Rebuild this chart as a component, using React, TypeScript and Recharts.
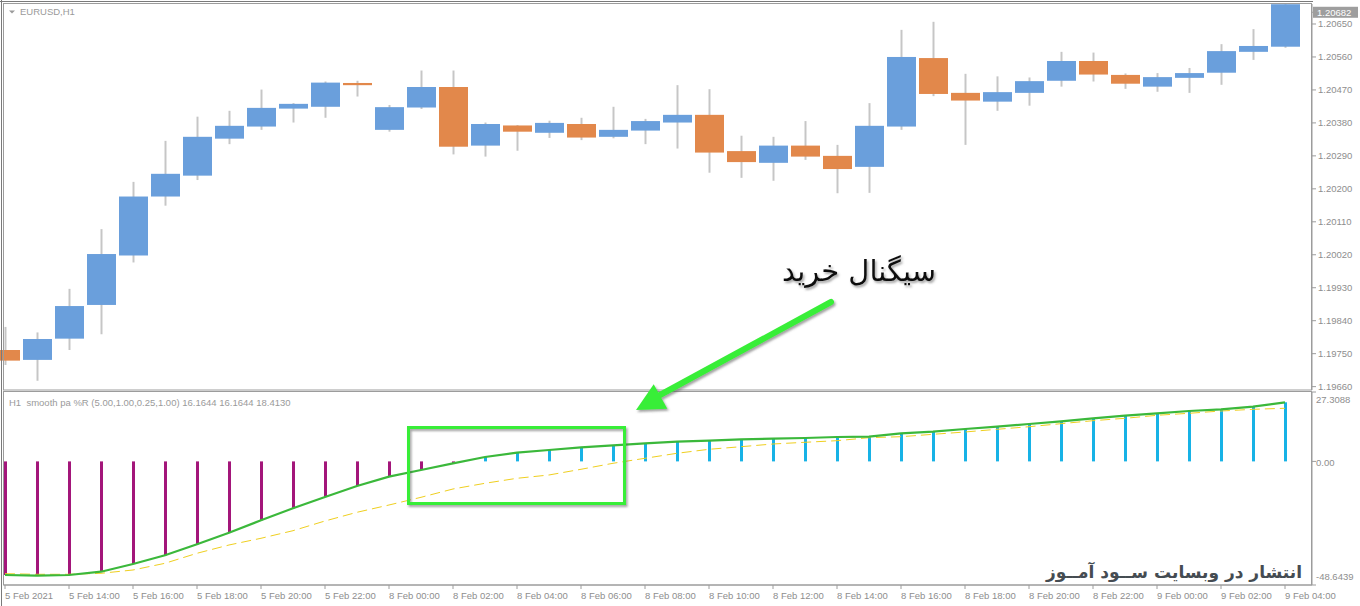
import React from 'react'
import { ComposedChart, Bar, Line, XAxis, YAxis, Cell } from 'recharts'

// H1 bars, 5 Feb 12:00 -> 9 Feb 04:00
const barTimes = [
  '5 Feb 12:00', '5 Feb 13:00', '5 Feb 14:00', '5 Feb 15:00', '5 Feb 16:00', '5 Feb 17:00',
  '5 Feb 18:00', '5 Feb 19:00', '5 Feb 20:00', '5 Feb 21:00', '5 Feb 22:00', '5 Feb 23:00',
  '8 Feb 00:00', '8 Feb 01:00', '8 Feb 02:00', '8 Feb 03:00', '8 Feb 04:00', '8 Feb 05:00',
  '8 Feb 06:00', '8 Feb 07:00', '8 Feb 08:00', '8 Feb 09:00', '8 Feb 10:00', '8 Feb 11:00',
  '8 Feb 12:00', '8 Feb 13:00', '8 Feb 14:00', '8 Feb 15:00', '8 Feb 16:00', '8 Feb 17:00',
  '8 Feb 18:00', '8 Feb 19:00', '8 Feb 20:00', '8 Feb 21:00', '8 Feb 22:00', '8 Feb 23:00',
  '9 Feb 00:00', '9 Feb 01:00', '9 Feb 02:00', '9 Feb 03:00', '9 Feb 04:00',
]

const opens = [
  1.19760, 1.19733, 1.19791, 1.19883, 1.20018, 1.20179, 1.20236, 1.20337, 1.20370, 1.20419,
  1.20424, 1.20489, 1.20361, 1.20422, 1.20478, 1.20318, 1.20373, 1.20353, 1.20377, 1.20342,
  1.20359, 1.20381, 1.20402, 1.20303, 1.20271, 1.20318, 1.20290, 1.20260, 1.20370, 1.20557,
  1.20462, 1.20438, 1.20462, 1.20495, 1.20549, 1.20511, 1.20479, 1.20503, 1.20517, 1.20574,
  1.20588,
]
const highs = [
  1.19823, 1.19808, 1.19927, 1.20090, 1.20219, 1.20331, 1.20397, 1.20413, 1.20471, 1.20434,
  1.20493, 1.20495, 1.20429, 1.20523, 1.20523, 1.20381, 1.20374, 1.20386, 1.20394, 1.20424,
  1.20391, 1.20483, 1.20472, 1.20345, 1.20342, 1.20385, 1.20320, 1.20434, 1.20634, 1.20656,
  1.20514, 1.20507, 1.20504, 1.20574, 1.20572, 1.20515, 1.20516, 1.20530, 1.20595, 1.20636,
  1.20704,
]
const lows = [
  1.19719, 1.19676, 1.19760, 1.19803, 1.19999, 1.20154, 1.20224, 1.20322, 1.20361, 1.20381,
  1.20394, 1.20452, 1.20356, 1.20418, 1.20294, 1.20288, 1.20304, 1.20339, 1.20333, 1.20338,
  1.20322, 1.20310, 1.20244, 1.20230, 1.20222, 1.20279, 1.20188, 1.20189, 1.20361, 1.20453,
  1.20320, 1.20413, 1.20427, 1.20479, 1.20493, 1.20473, 1.20465, 1.20462, 1.20484, 1.20552,
  1.20585,
]
const closes = [
  1.19731, 1.19790, 1.19880, 1.20022, 1.20179, 1.20241, 1.20342, 1.20372, 1.20421, 1.20432,
  1.20490, 1.20483, 1.20423, 1.20478, 1.20315, 1.20377, 1.20356, 1.20380, 1.20340, 1.20361,
  1.20385, 1.20402, 1.20299, 1.20273, 1.20318, 1.20288, 1.20254, 1.20372, 1.20560, 1.20459,
  1.20441, 1.20464, 1.20494, 1.20549, 1.20512, 1.20487, 1.20505, 1.20516, 1.20576, 1.20590,
  1.20704,
]

// smooth pa %R: main line (also the histogram) and signal line
const mainValues = [
  -44.70, -44.98, -44.70, -43.41, -40.38, -36.95, -32.62, -28.06, -23.18, -18.46,
  -14.01, -9.68, -6.02, -3.38, -0.75, 1.73, 3.42, 4.49, 5.55, 6.34,
  7.12, 7.75, 8.15, 8.70, 8.93, 9.21, 9.60, 9.72, 11.06, 11.69,
  12.75, 13.65, 14.72, 15.78, 16.96, 17.98, 18.93, 19.83, 20.50, 21.53,
  23.26,
]
const signalValues = [
  -44.19, -44.43, -44.43, -44.04, -42.74, -40.10, -36.16, -32.90, -30.26, -27.27,
  -23.45, -20.03, -17.16, -14.13, -10.86, -8.62, -6.65, -5.35, -3.11, -0.75,
  1.22, 3.19, 4.76, 5.78, 6.85, 7.52, 8.15, 9.33, 9.72, 10.66,
  11.57, 12.63, 13.65, 14.84, 16.02, 16.96, 18.14, 18.93, 19.83, 20.50,
  20.90,
]

const priceTicks = [1.1966, 1.1975, 1.1984, 1.1993, 1.2002, 1.2011, 1.202, 1.2029, 1.2038, 1.2047, 1.2056, 1.2065]
const lastPrice = 1.20682
const indTicks = [-48.6439, 0, 27.3088]
const timeTicks = [
  '5 Feb 12:00', '5 Feb 14:00', '5 Feb 16:00', '5 Feb 18:00', '5 Feb 20:00', '5 Feb 22:00',
  '8 Feb 00:00', '8 Feb 02:00', '8 Feb 04:00', '8 Feb 06:00', '8 Feb 08:00', '8 Feb 10:00',
  '8 Feb 12:00', '8 Feb 14:00', '8 Feb 16:00', '8 Feb 18:00', '8 Feb 20:00', '8 Feb 22:00',
  '9 Feb 00:00', '9 Feb 02:00', '9 Feb 04:00',
]

const BLUE = '#6a9fdc'
const ORANGE = '#e2884b'
const WICK = '#c6c6c6'
const MAGENTA = '#a3167a'
const CYAN = '#17b2e6'
const GREEN = '#3bb83b'
const YELLOW = '#efcf1f'
const AXIS = '#9c9c9c'
const LABEL = '#8e8e8e'
const FONT = '"Liberation Sans", Arial, sans-serif'
const MARK = '#39ee39'

const candles = barTimes.map((t, i) => ({
  t, open: opens[i], high: highs[i], low: lows[i], close: closes[i], range: [lows[i], highs[i]],
}))
const indRows = barTimes.map((t, i) => ({ t, main: mainValues[i], signal: signalValues[i] }))

const Candle = (props: any) => {
  const { x, y, width, height, payload } = props
  if (x == null || y == null) return null
  const top = Math.min(y, y + height)
  const h = Math.abs(height)
  const span = payload.high - payload.low
  const toY = (v: number) => (span === 0 ? top : top + ((payload.high - v) / span) * h)
  const up = payload.close >= payload.open
  const bTop = toY(Math.max(payload.open, payload.close))
  const bBot = toY(Math.min(payload.open, payload.close))
  const cx = x + width / 2
  return (
    <g>
      <line x1={cx} x2={cx} y1={top} y2={top + h} stroke={WICK} strokeWidth={2} />
      <rect x={x} y={bTop} width={width} height={Math.max(bBot - bTop, 2)} fill={up ? BLUE : ORANGE} />
    </g>
  )
}

const PriceTick = (p: any) => {
  const v = p.payload.value
  if (v === lastPrice) {
    return (
      <g>
        <rect x={p.x - 5} y={p.y - 5.5} width={45} height={11} fill="#9e9e9e" />
        <text x={p.x - 1} y={p.y + 3.5} fill="#ffffff" fontSize={9.5} fontFamily={FONT}>{v.toFixed(5)}</text>
      </g>
    )
  }
  return <text x={p.x} y={p.y + 3.5} fill={LABEL} fontSize={9.5} fontFamily={FONT}>{v.toFixed(5)}</text>
}

const IndTick = (p: any) => {
  const v = p.payload.value
  const dy = v > 0 ? 10.5 : v < 0 ? -5 : 4.5
  return <text x={p.x - 2} y={p.y + dy} fill={LABEL} fontSize={9.5} fontFamily={FONT}>{v === 0 ? '0.00' : v.toFixed(4)}</text>
}

const TimeTick = (p: any) => {
  const v = p.payload.value
  const label = v === '5 Feb 12:00' ? '5 Feb 2021' : v
  return <text x={p.x} y={p.y + 7.5} fill={LABEL} fontSize={9.5} fontFamily={FONT}>{label}</text>
}

export default function App() {
  return (
    <div style={{ position: 'relative', width: 1360, height: 606, background: '#fff', overflow: 'hidden' }}>
      <style>{'body{margin:0}'}</style>

      <div style={{ position: 'absolute', left: 0, top: 0 }}>
        <ComposedChart width={1360} height={395} data={candles} margin={{ top: 4, right: 0, bottom: 5, left: 4 }}>
          <XAxis dataKey="t" hide padding={{ left: -15, right: 11 }} />
          <YAxis
            orientation="right"
            width={48}
            domain={[1.196508, 1.207046]}
            allowDataOverflow
            ticks={[...priceTicks, lastPrice]}
            interval={0}
            tick={<PriceTick />}
            tickSize={4}
            tickMargin={2}
            axisLine={{ stroke: AXIS }}
            tickLine={{ stroke: AXIS }}
          />
          <Bar dataKey="range" shape={<Candle />} barSize={29} isAnimationActive={false} />
        </ComposedChart>
      </div>

      <div style={{ position: 'absolute', left: 0, top: 388 }}>
        <ComposedChart width={1360} height={218} data={indRows} margin={{ top: 4, right: 0, bottom: 0, left: 4 }}>
          <XAxis
            dataKey="t"
            padding={{ left: -15, right: 11 }}
            height={21}
            ticks={timeTicks}
            interval={0}
            tick={<TimeTick />}
            tickSize={4}
            tickMargin={2}
            axisLine={{ stroke: AXIS }}
            tickLine={{ stroke: AXIS }}
          />
          <YAxis
            orientation="right"
            width={48}
            domain={[-48.6439, 27.3088]}
            allowDataOverflow
            ticks={indTicks}
            interval={0}
            tick={<IndTick />}
            tickSize={4}
            tickMargin={2}
            axisLine={{ stroke: AXIS }}
            tickLine={{ stroke: AXIS }}
          />
          <Bar dataKey="main" barSize={3} isAnimationActive={false}>
            {indRows.map((r, i) => (
              <Cell key={i} fill={r.main < 0 ? MAGENTA : CYAN} />
            ))}
          </Bar>
          <Line dataKey="signal" type="linear" stroke={YELLOW} strokeWidth={1} strokeDasharray="10 5" dot={false} isAnimationActive={false} />
          <Line dataKey="main" type="linear" stroke={GREEN} strokeWidth={2.2} dot={false} isAnimationActive={false} />
        </ComposedChart>
      </div>

      {/* frames, captions and the hand-drawn annotation */}
      <svg width={1360} height={606} style={{ position: 'absolute', left: 0, top: 0, pointerEvents: 'none' }}>
        <defs>
          <filter id="shadow" x="-20%" y="-20%" width="140%" height="140%">
            <feDropShadow dx="1.5" dy="2" stdDeviation="1.2" floodColor="#555" floodOpacity="0.55" />
          </filter>
        </defs>
        <line x1={0} x2={1313} y1={1.5} y2={1.5} stroke="#7a7a7a" />
        <line x1={1.5} x2={1.5} y1={0} y2={606} stroke="#7a7a7a" />
        <rect x={3.5} y={3.5} width={1308} height={386.5} fill="none" stroke={AXIS} />
        <rect x={3.5} y={391.5} width={1308} height={193.5} fill="none" stroke={AXIS} />

        <path d="M9 10.5 L15 10.5 L12 13.5 Z" fill="#9a9a9a" />
        <text x={20} y={15} fill="#9a9a9a" fontSize={9.5} fontFamily={FONT}>EURUSD,H1</text>
        <text x={9} y={405.5} fill="#9a9a9a" fontSize={9.5} fontFamily={FONT} xmlSpace="preserve">
          H1  smooth pa %R (5.00,1.00,0.25,1.00) 16.1644 16.1644 18.4130
        </text>

        <rect x={408.5} y={427.5} width={216} height={76} fill="none" stroke={MARK} strokeWidth={3} filter="url(#shadow)" />
        <g filter="url(#shadow)">
          <line x1={831} y1={302} x2={660} y2={395} stroke={MARK} strokeWidth={6} strokeLinecap="round" />
          <path d="M636 410 L653.7 384.2 L667.3 408.8 Z" fill={MARK} />
        </g>
        <text x={859} y={281} textAnchor="middle" fontSize={29} fontFamily='"DejaVu Sans", sans-serif' fill="#111" filter="url(#shadow)">
          سیگنال خرید
        </text>

        <text
          x={1302}
          y={578}
          textAnchor="end"
          fontSize={17}
          fontWeight="bold"
          fontFamily='"DejaVu Sans", sans-serif'
          fill="#454c52"
        >
          انتشار در وبسایت ســود آمــوز
        </text>
      </svg>
    </div>
  )
}
